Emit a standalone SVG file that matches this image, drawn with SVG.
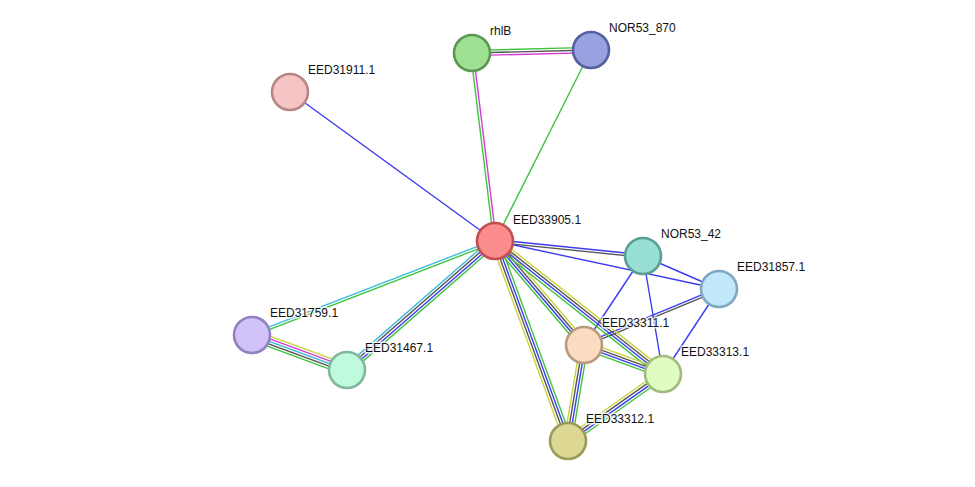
<svg xmlns="http://www.w3.org/2000/svg" width="975" height="487" viewBox="0 0 975 487">
<style>
.e line{stroke-width:1.4;fill:none}
.g{stroke:#3fc43f}.b{stroke:#3c3cf0}.k{stroke:#555555}.m{stroke:#d83ad8}.c{stroke:#40bcd8}.y{stroke:#c8d43c}
.n circle{stroke-width:2.6}
.n text{font-family:"Liberation Sans",Arial,sans-serif;font-size:12px;fill:#111;stroke:#fff;stroke-width:3;stroke-opacity:0.8;paint-order:stroke;stroke-linejoin:round}
</style>
<rect width="975" height="487" fill="#ffffff"/>
<g id="edges" class="e">
<line class="g" x1="472" y1="50.4" x2="591" y2="47.4"/>
<line class="k" x1="472" y1="53" x2="591" y2="50"/>
<line class="m" x1="472" y1="55.6" x2="591" y2="52.6"/>
<line class="g" x1="470.7" y1="53.2" x2="493.7" y2="241.2"/>
<line class="m" x1="473.3" y1="52.8" x2="496.3" y2="240.8"/>
<line class="g" x1="591" y1="50" x2="495" y2="241"/>
<line class="b" x1="290" y1="92" x2="495" y2="241"/>
<line class="b" x1="495.1" y1="239.7" x2="643.1" y2="254.7"/>
<line class="k" x1="494.9" y1="242.3" x2="642.9" y2="257.3"/>
<line class="b" x1="495" y1="241" x2="719" y2="289"/>
<line class="b" x1="643" y1="256" x2="719" y2="289"/>
<line class="b" x1="643" y1="256" x2="584" y2="345"/>
<line class="b" x1="643" y1="256" x2="663" y2="374"/>
<line class="b" x1="718.5" y1="287.8" x2="583.5" y2="343.8"/>
<line class="k" x1="719.5" y1="290.2" x2="584.5" y2="346.2"/>
<line class="b" x1="719" y1="289" x2="663" y2="374"/>
<line class="c" x1="494.5" y1="239.8" x2="251.5" y2="333.8"/>
<line class="g" x1="495.5" y1="242.2" x2="252.5" y2="336.2"/>
<line class="c" x1="492.4" y1="238.1" x2="344.4" y2="367.1"/>
<line class="k" x1="494.1" y1="240" x2="346.1" y2="369"/>
<line class="b" x1="495.9" y1="242" x2="347.9" y2="371"/>
<line class="g" x1="497.6" y1="243.9" x2="349.6" y2="372.9"/>
<line class="y" x1="253.8" y1="330.1" x2="348.8" y2="365.1"/>
<line class="m" x1="252.9" y1="332.6" x2="347.9" y2="367.6"/>
<line class="c" x1="252" y1="335" x2="347" y2="370"/>
<line class="k" x1="251.1" y1="337.4" x2="346.1" y2="372.4"/>
<line class="g" x1="250.2" y1="339.9" x2="345.2" y2="374.9"/>
<line class="y" x1="498" y1="238.5" x2="587" y2="342.5"/>
<line class="k" x1="496" y1="240.2" x2="585" y2="344.2"/>
<line class="b" x1="494" y1="241.8" x2="583" y2="345.8"/>
<line class="g" x1="492" y1="243.5" x2="581" y2="347.5"/>
<line class="y" x1="497.4" y1="237.9" x2="665.4" y2="370.9"/>
<line class="k" x1="495.8" y1="240" x2="663.8" y2="373"/>
<line class="b" x1="494.2" y1="242" x2="662.2" y2="375"/>
<line class="g" x1="492.6" y1="244.1" x2="660.6" y2="377.1"/>
<line class="y" x1="491.3" y1="242.3" x2="564.3" y2="442.3"/>
<line class="k" x1="493.8" y1="241.4" x2="566.8" y2="441.4"/>
<line class="b" x1="496.2" y1="240.6" x2="569.2" y2="440.6"/>
<line class="g" x1="498.7" y1="239.7" x2="571.7" y2="439.7"/>
<line class="y" x1="585.3" y1="341.3" x2="664.3" y2="370.3"/>
<line class="k" x1="584.5" y1="343.8" x2="663.5" y2="372.8"/>
<line class="b" x1="583.6" y1="346.2" x2="662.6" y2="375.2"/>
<line class="g" x1="582.7" y1="348.7" x2="661.7" y2="377.7"/>
<line class="y" x1="580.2" y1="344.4" x2="564.2" y2="440.4"/>
<line class="k" x1="582.7" y1="344.8" x2="566.7" y2="440.8"/>
<line class="b" x1="585.3" y1="345.2" x2="569.3" y2="441.2"/>
<line class="g" x1="587.8" y1="345.6" x2="571.8" y2="441.6"/>
<line class="y" x1="660.8" y1="370.8" x2="565.8" y2="437.8"/>
<line class="k" x1="662.3" y1="372.9" x2="567.3" y2="439.9"/>
<line class="b" x1="663.8" y1="375.1" x2="568.8" y2="442.1"/>
<line class="g" x1="665.3" y1="377.2" x2="570.3" y2="444.2"/>
</g>
<g id="rhlB" class="n"><circle cx="472" cy="53" r="18" fill="#a0e094" stroke="#5a9a50"/><text x="490" y="35">rhlB</text></g>
<g id="NOR53_870" class="n"><circle cx="591" cy="50" r="18" fill="#98a2e0" stroke="#5560a0"/><text x="609" y="32">NOR53_870</text></g>
<g id="EED31911.1" class="n"><circle cx="290" cy="92" r="18" fill="#f5c4c4" stroke="#b88484"/><text x="308" y="74">EED31911.1</text></g>
<g id="EED33905.1" class="n"><circle cx="495" cy="241" r="18" fill="#fb8c8c" stroke="#c05050"/><text x="513" y="224">EED33905.1</text></g>
<g id="NOR53_42" class="n"><circle cx="643" cy="256" r="18" fill="#98e0d6" stroke="#5a9e94"/><text x="661" y="238">NOR53_42</text></g>
<g id="EED31857.1" class="n"><circle cx="719" cy="289" r="18" fill="#c0e8fa" stroke="#80a8c0"/><text x="737" y="271">EED31857.1</text></g>
<g id="EED31759.1" class="n"><circle cx="252" cy="335" r="18" fill="#d2c2fa" stroke="#9282c0"/><text x="270" y="317">EED31759.1</text></g>
<g id="EED31467.1" class="n"><circle cx="347" cy="370" r="18" fill="#c0fadc" stroke="#80b89c"/><text x="365" y="352">EED31467.1</text></g>
<g id="EED33311.1" class="n"><circle cx="584" cy="345" r="18" fill="#fcdcc0" stroke="#b89a7e"/><text x="602" y="327">EED33311.1</text></g>
<g id="EED33313.1" class="n"><circle cx="663" cy="374" r="18" fill="#e0fcc0" stroke="#a0bc80"/><text x="681" y="356">EED33313.1</text></g>
<g id="EED33312.1" class="n"><circle cx="568" cy="441" r="18" fill="#dcd894" stroke="#9c9a58"/><text x="586" y="423">EED33312.1</text></g>
</svg>
